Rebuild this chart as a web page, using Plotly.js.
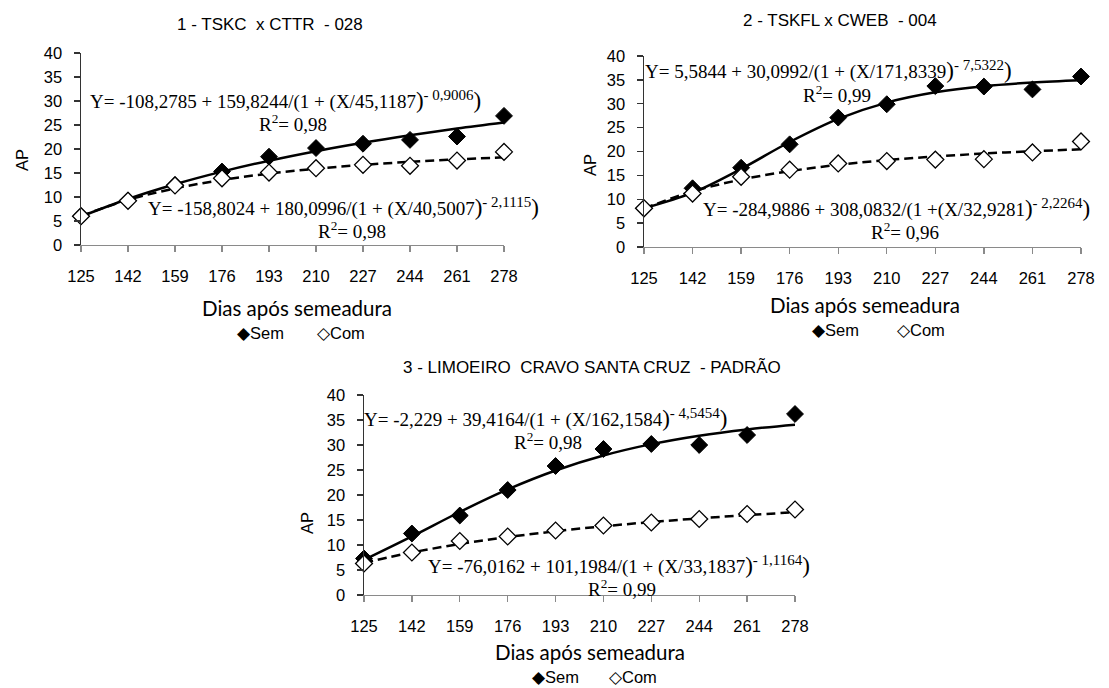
<!DOCTYPE html>
<html>
<head>
<meta charset="utf-8">
<script src="https://cdn.plot.ly/plotly-3.0.1.min.js"></script>
<style>html,body{margin:0;padding:0;background:#fff;}#chart{width:1109px;height:688px;}</style>
</head>
<body>
<div id="chart"></div>
<script>
// ---- data ----
const days = [125, 142, 159, 176, 193, 210, 227, 244, 261, 278];
const yTicks = [0, 5, 10, 15, 20, 25, 30, 35, 40];

const p1Sem    = [6.0, 9.3, 12.5, 15.3, 18.4, 20.2, 21.1, 21.9, 22.6, 26.9];
const p1Com    = [6.0, 9.2, 12.4, 13.9, 15.1, 16.0, 16.7, 16.5, 17.6, 19.4];
const p1SemFit = [5.93, 9.58, 12.65, 15.28, 17.56, 19.55, 21.30, 22.86, 24.27, 25.53];
const p1ComFit = [6.04, 9.40, 11.79, 13.55, 14.87, 15.89, 16.69, 17.33, 17.84, 18.27];

const p2Sem    = [8.1, 12.3, 16.6, 21.5, 27.1, 29.9, 33.7, 33.6, 33.0, 35.7];
const p2Com    = [8.1, 11.2, 14.7, 16.2, 17.5, 18.0, 18.3, 18.4, 19.8, 22.1];
const p2SemFit = [8.09, 11.37, 16.36, 21.99, 26.83, 30.24, 32.39, 33.68, 34.44, 34.90];
const p2ComFit = [8.06, 11.64, 14.11, 15.89, 17.20, 18.19, 18.96, 19.57, 20.06, 20.45];

const p3Sem    = [7.3, 12.3, 15.9, 21.0, 25.8, 29.2, 30.2, 30.0, 32.0, 36.2];
const p3Com    = [6.3, 8.5, 10.8, 11.7, 12.9, 13.9, 14.5, 15.2, 16.2, 17.1];
const p3SemFit = [7.01, 11.71, 16.60, 21.11, 24.90, 27.89, 30.17, 31.87, 33.12, 34.06];
const p3ComFit = [6.43, 8.51, 10.19, 11.58, 12.75, 13.74, 14.59, 15.33, 15.98, 16.55];

const titles = ['1 - TSKC  x CTTR  - 028', '2 - TSKFL x CWEB  - 004', '3 - LIMOEIRO  CRAVO SANTA CRUZ  - PADRÃO'];
const xTitle = 'Dias após semeadura';
const yTitle = 'AP';
const P = '<span style="font-size:23px">)</span>';
const S = s => '<sup><span style="font-size:15px">' + s + '</span></sup>';
const eqSem = [
  'Y= -108,2785 + 159,8244/(1 + (X/45,1187' + P + S('- 0,9006') + P,
  'Y= 5,5844 + 30,0992/(1 + (X/171,8339' + P + S('- 7,5322') + P,
  'Y= -2,229 + 39,4164/(1 + (X/162,1584' + P + S('- 4,5454') + P
];
const eqCom = [
  'Y= -158,8024 + 180,0996/(1 + (X/40,5007' + P + S('- 2,1115') + P,
  'Y= -284,9886 + 308,0832/(1 +(X/32,9281' + P + S('- 2,2264') + P,
  'Y= -76,0162 + 101,1984/(1 + (X/33,1837' + P + S('- 1,1164') + P
];
const r2Sem = ['R<sup>2</sup>= 0,98', 'R<sup>2</sup>= 0,99', 'R<sup>2</sup>= 0,98'];
const r2Com = ['R<sup>2</sup>= 0,98', 'R<sup>2</sup>= 0,96', 'R<sup>2</sup>= 0,99'];

// ---- layout geometry (pixels) ----
const W = 1109, H = 688;
const px = v => v / W;
const py = v => 1 - v / H;

const panels = [
  {x0: 81,  x1: 504,  yTop: 53,  yBot: 245, sem: p1Sem, com: p1Com, semFit: p1SemFit, comFit: p1ComFit},
  {x0: 644, x1: 1081, yTop: 56,  yBot: 247, sem: p2Sem, com: p2Com, semFit: p2SemFit, comFit: p2ComFit},
  {x0: 364, x1: 795,  yTop: 395, yBot: 595, sem: p3Sem, com: p3Com, semFit: p3SemFit, comFit: p3ComFit}
];

const traces = [];
const layout = {
  width: W, height: H,
  margin: {l: 0, r: 0, t: 0, b: 0},
  paper_bgcolor: '#fff', plot_bgcolor: '#fff',
  showlegend: false,
  annotations: []
};

const tickFont = {family: 'Liberation Sans, Arial, sans-serif', size: 16.5, color: '#000'};

panels.forEach((p, i) => {
  const n = i === 0 ? '' : String(i + 1);
  const xa = 'x' + n, ya = 'y' + n;
  layout['xaxis' + n] = {
    domain: [px(p.x0), px(p.x1)], anchor: ya,
    range: [125, 278], tickmode: 'array', tickvals: days, ticktext: days.map(String),
    showline: true, linecolor: '#8a8a8a', linewidth: 1.3,
    ticks: 'outside', ticklen: 6, tickcolor: '#8a8a8a', tickwidth: 1.3,
    showgrid: false, zeroline: false, tickfont: tickFont, ticklabelstandoff: 10
  };
  layout['yaxis' + n] = {
    domain: [py(p.yBot), py(p.yTop)], anchor: xa,
    range: [0, 40], tickmode: 'array', tickvals: yTicks,
    showline: true, linecolor: '#333', linewidth: 1.5,
    ticks: 'outside', ticklen: 6, tickcolor: '#333', tickwidth: 1.3,
    showgrid: false, zeroline: false, tickfont: tickFont, ticklabelstandoff: 8
  };
  traces.push({x: days, y: p.comFit, xaxis: xa, yaxis: ya, mode: 'lines', type: 'scatter',
    line: {color: '#000', width: 2.5, dash: '9px,5px', shape: 'spline'}, hoverinfo: 'skip', cliponaxis: false});
  traces.push({x: days, y: p.semFit, xaxis: xa, yaxis: ya, mode: 'lines', type: 'scatter',
    line: {color: '#000', width: 2.5, shape: 'spline'}, hoverinfo: 'skip', cliponaxis: false});
  traces.push({x: days, y: p.sem, xaxis: xa, yaxis: ya, mode: 'markers', type: 'scatter', name: 'Sem',
    marker: {symbol: 'diamond', size: 13, color: '#000', line: {color: '#000', width: 1}}, cliponaxis: false});
  traces.push({x: days, y: p.com, xaxis: xa, yaxis: ya, mode: 'markers', type: 'scatter', name: 'Com',
    marker: {symbol: 'diamond', size: 13, color: '#fff', line: {color: '#000', width: 1.3}}, cliponaxis: false});
});

function ann(x, y, text, o) {
  layout.annotations.push(Object.assign({
    xref: 'paper', yref: 'paper', x: px(x), y: py(y), text: text, showarrow: false,
    xanchor: 'center', yanchor: 'middle'
  }, o || {}));
}

const titleFont = {family: 'Liberation Sans, Arial, sans-serif', size: 17, color: '#000'};
const axFont = {family: 'Lato, Open Sans, sans-serif', size: 20.5, color: '#000'};
const eqFont = {family: 'Liberation Serif, Times New Roman, serif', size: 19, color: '#000'};
const legFont = {family: 'Liberation Sans, Arial, sans-serif', size: 16.5, color: '#000'};

// titles
ann(270, 25, titles[0], {font: titleFont});
ann(840, 20, titles[1], {font: titleFont});
ann(592, 368, titles[2], {font: titleFont});

// axis titles
ann(297, 308, xTitle, {font: axFont});
ann(865, 305, xTitle, {font: axFont});
ann(590, 652, xTitle, {font: axFont});
ann(22, 160, yTitle, {font: tickFont, textangle: -90});
ann(590, 165, yTitle, {font: tickFont, textangle: -90});
ann(307, 523, yTitle, {font: tickFont, textangle: -90});

// equations
ann(88, 100, eqSem[0], {font: eqFont, xanchor: 'left'});
ann(293, 123, r2Sem[0], {font: eqFont});
ann(146, 207, eqCom[0], {font: eqFont, xanchor: 'left'});
ann(352, 230, r2Com[0], {font: eqFont});

ann(643, 70, eqSem[1], {font: eqFont, xanchor: 'left'});
ann(837, 94, r2Sem[1], {font: eqFont});
ann(701, 208, eqCom[1], {font: eqFont, xanchor: 'left'});
ann(905, 231, r2Com[1], {font: eqFont});

ann(362, 418, eqSem[2], {font: eqFont, xanchor: 'left'});
ann(548, 441, r2Sem[2], {font: eqFont});
ann(426, 565, eqCom[2], {font: eqFont, xanchor: 'left'});
ann(622, 588, r2Com[2], {font: eqFont});

// legends
const legends = [[235, 315, 333], [810, 895, 330], [530, 607, 677]];
legends.forEach(l => {
  ann(l[0], l[2], '◆Sem', {font: legFont, xanchor: 'left'});
  ann(l[1], l[2], '◇Com', {font: legFont, xanchor: 'left'});
});

Plotly.newPlot('chart', traces, layout, {staticPlot: true});
</script>
</body>
</html>
